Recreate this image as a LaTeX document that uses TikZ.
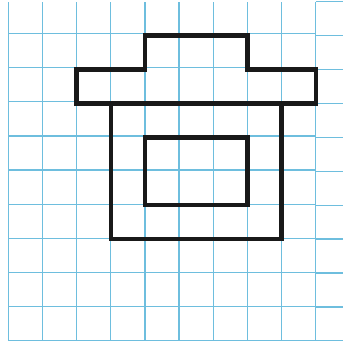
\documentclass[tikz,border=0pt]{standalone}
\definecolor{gridblue}{RGB}{110,190,222}
\begin{document}
\begin{tikzpicture}[x=1cm,y=0.993cm]
\tikzstyle{gridline}=[draw=gridblue,line width=1pt]
\tikzstyle{outline}=[draw=black!90,line width=3.6pt]
\useasboundingbox (-0.243,-0.03) rectangle (9.80,10.05);
%
\path[gridline] (0,0) grid (9,10);
\path[gridline] (9,0) -- (9.80,0) (9,1) -- (9.80,1) (9,2) -- (9.80,2)
  (9,3) -- (9.80,3) (9,4) -- (9.80,4) (9,5) -- (9.80,5) (9,6) -- (9.80,6)
  (9,7) -- (9.80,7) (9,8) -- (9.80,8) (9,9) -- (9.80,9) (9,10) -- (9.80,10);
%
\path[outline] (2,7) -- (2,8) -- (4,8) -- (4,9) -- (7,9) -- (7,8) -- (9,8) -- (9,7) -- cycle;
\path[outline] (3,7) rectangle (8,3);
\path[outline] (4,6) rectangle (7,4);
\end{tikzpicture}
\end{document}
